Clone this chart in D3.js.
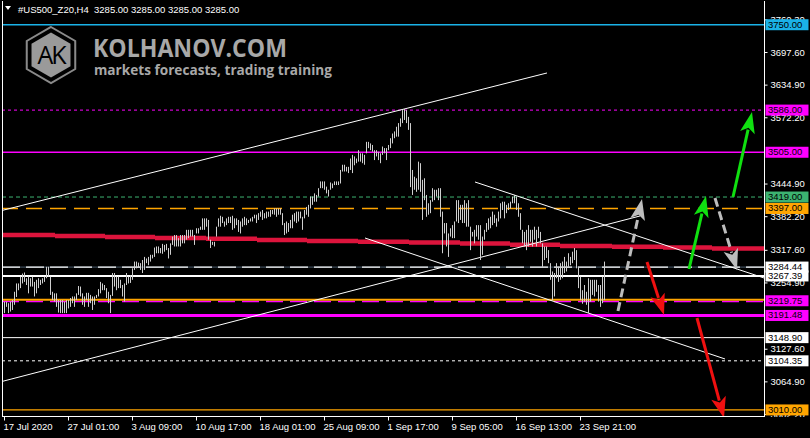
<!DOCTYPE html>
<html><head><meta charset="utf-8">
<script src="https://cdn.jsdelivr.net/npm/d3@7/dist/d3.min.js"></script>
<style>
html,body{margin:0;padding:0;background:#000;overflow:hidden;}
svg{display:block;}
</style></head><body>
<svg id="c" width="810" height="438"></svg>
<script>
// ---------- DATA ----------
const symbolTitle = "#US500_Z20,H4  3285.00 3285.00 3285.00 3285.00";
const highs = [
3218,3218,3215,3218,3221,3237,3253,3253,3266,3272,
3274,3263,3266,3263,3266,3256,3260,3263,3260,3263,
3266,3285,3285,3266,3237,3234,3234,3221,3221,3221,
3218,3221,3221,3225,3228,3228,3234,3248,3247,3234,
3228,3235,3235,3231,3228,3228,3231,3242,3256,3253,
3250,3244,3237,3231,3273,3273,3266,3266,3260,3250,
3253,3273,3266,3269,3282,3295,3295,3293,3292,3298,
3304,3301,3304,3308,3308,3322,3324,3324,3321,3329,
3327,3329,3321,3330,3343,3346,3346,3340,3346,3346,
3346,3356,3356,3356,3356,3346,3359,3359,3362,3378,
3378,3378,3375,3337,3333,3333,3362,3378,3383,3381,
3372,3378,3381,3381,3383,3378,3378,3375,3372,3378,
3381,3378,3375,3378,3381,3385,3385,3388,3391,3394,
3388,3391,3391,3394,3394,3397,3397,3397,3397,3388,
3369,3372,3369,3375,3385,3388,3391,3391,3391,3381,
3394,3400,3404,3420,3420,3426,3423,3436,3449,3449,
3449,3439,3433,3447,3445,3449,3449,3449,3471,3481,
3481,3477,3477,3493,3500,3497,3493,3509,3503,3503,
3500,3525,3525,3522,3519,3509,3509,3506,3503,3516,
3513,3513,3519,3532,3541,3545,3554,3561,3570,3586,
3588,3586,3573,3561,3471,3458,3455,3487,3484,3452,
3455,3423,3407,3413,3436,3433,3433,3436,3436,3391,
3369,3369,3349,3359,3365,3372,3413,3413,3404,3404,
3413,3407,3413,3362,3352,3356,3365,3365,3365,3343,
3356,3369,3378,3381,3391,3385,3378,3391,3407,3410,
3410,3404,3407,3410,3420,3423,3420,3407,3388,3356,
3352,3356,3365,3356,3356,3362,3356,3362,3352,3330,
3324,3324,3317,3292,3276,3273,3292,3285,3292,3295,
3304,3295,3311,3304,3314,3321,3317,3285,3266,3240,
3250,3237,3263,3260,3260,3260,3260,3250,3250,3266,
3295,3285];
const lows = [
3196,3208,3196,3199,3202,3212,3227,3240,3244,3253,
3256,3250,3234,3247,3247,3228,3234,3244,3250,3253,
3256,3263,3266,3231,3221,3218,3208,3197,3196,3196,
3196,3196,3205,3208,3215,3208,3221,3231,3228,3212,
3208,3221,3208,3215,3202,3212,3225,3228,3234,3240,
3240,3225,3215,3196,3229,3247,3240,3244,3244,3228,
3218,3250,3253,3254,3260,3279,3282,3284,3279,3273,
3279,3292,3288,3295,3301,3304,3311,3311,3311,3310,
3314,3317,3301,3308,3327,3324,3324,3324,3324,3330,
3330,3337,3340,3343,3343,3327,3349,3349,3356,3356,
3356,3362,3337,3321,3327,3324,3343,3362,3362,3369,
3362,3365,3369,3369,3356,3359,3365,3352,3349,3362,
3365,3365,3369,3372,3372,3378,3369,3375,3381,3375,
3378,3378,3381,3381,3386,3385,3381,3385,3385,3365,
3346,3349,3352,3359,3359,3372,3369,3372,3378,3356,
3378,3385,3381,3397,3404,3410,3410,3420,3436,3436,
3433,3426,3420,3433,3436,3442,3442,3442,3445,3468,
3468,3468,3465,3471,3465,3480,3484,3487,3487,3484,
3481,3503,3513,3509,3506,3490,3497,3490,3484,3500,
3503,3490,3509,3513,3522,3532,3535,3535,3554,3561,
3567,3561,3548,3438,3423,3433,3429,3433,3429,3375,
3413,3381,3385,3388,3410,3413,3420,3413,3381,3311,
3349,3324,3304,3343,3340,3340,3372,3369,3375,3369,
3369,3362,3362,3317,3343,3330,3343,3337,3298,3308,
3337,3352,3356,3359,3365,3369,3362,3372,3378,3394,
3378,3388,3394,3397,3407,3407,3394,3381,3356,3330,
3324,3317,3324,3333,3324,3337,3324,3340,3330,3285,
3298,3302,3292,3260,3221,3228,3263,3256,3260,3263,
3273,3276,3285,3288,3292,3298,3282,3244,3221,3214,
3218,3212,3196,3218,3231,3228,3237,3218,3208,3215,
3221,3285];

const xTickBars   = [0, 32, 64, 96, 128, 160, 192, 224, 256, 288];
const xTickLabels = ["17 Jul 2020","27 Jul 01:00","3 Aug 09:00","10 Aug 17:00","18 Aug 01:00",
                     "25 Aug 09:00","1 Sep 17:00","9 Sep 05:00","16 Sep 13:00","23 Sep 21:00"];
const yTickValues = [3760.30, 3697.60, 3634.90, 3572.20, 3444.90, 3382.20, 3317.60, 3254.90, 3127.60, 3064.90, 3002.20];

// horizontal levels
const levelPrices = [3750.00, 3586.00, 3505.00, 3419.00, 3397.00, 3284.44, 3267.39, 3221.50, 3219.75, 3191.48, 3148.90, 3104.35, 3010.00];
const levelLabels = ["3750.00","3586.00","3505.00","3419.00","3397.00","3284.44","3267.39","","3219.75","3191.48","3148.90","3104.35","3010.00"];

// weekly red step line
const stepBounds = [-2, 25.5, 50.5, 75.5, 101, 126.5, 151.5, 177, 202.5, 228, 253, 278, 304, 329.5, 354, 380];
const stepValues = [3346.1, 3344.1, 3342.2, 3340.3, 3338.8, 3336.5, 3334.5, 3333.0, 3331.7, 3329.8, 3327.3, 3325.0, 3323.4, 3322.1, 3320.2];

// trend lines: [startBar, startPrice, endBar, endPrice]
const trendStartBar   = [-2, -2, 180.5, 235.5];
const trendStartPrice = [3392.2, 3063.7, 3340.3, 3447.9];
const trendEndBar     = [271.5, 318, 360.5, 380];
const trendEndPrice   = [3657.3, 3382.6, 3107.9, 3263.5];

// forecast arrows
const arrowFromBar   = [307, 321.5, 342.5, 355.5, 364.5, 346.5];
const arrowFromPrice = [3200.1, 3294.2, 3280.7, 3417.1, 3419.1, 3186.6];
const arrowToBar     = [319, 330, 351, 366.5, 374, 360];
const arrowToPrice   = [3415.2, 3192.4, 3421.0, 3278.8, 3582.3, 2994.5];
const arrowKind      = ["gray","red","green","gray","green","red"];

// ---------- DRAW ----------
const svg = d3.select("#c");
const P = {left:2, right:764, top:1, bottom:416};
const x = d3.scaleLinear().domain([-2, 380]).range([0, 764]);
const y = d3.scaleLinear().domain([3002.2, 3697.6]).range([414, 52]);

svg.append("rect").attr("width",810).attr("height",438).attr("fill","#000");

const defs = svg.append("defs");
defs.append("clipPath").attr("id","plot").append("rect")
  .attr("x",P.left).attr("y",P.top).attr("width",P.right-P.left).attr("height",P.bottom-P.top);
defs.append("clipPath").attr("id","axisclip").append("rect")
  .attr("x",P.right).attr("y",0).attr("width",810-P.right).attr("height",P.bottom+1);

const plot = svg.append("g").attr("clip-path","url(#plot)");

// logo
const logo = svg.append("g");
const hex = (cx,cy,r)=>d3.range(6).map(k=>{const a=Math.PI/3*k - Math.PI/2; return [cx+r*Math.cos(a), cy+r*Math.sin(a)];});
logo.append("polygon").attr("points",hex(51,55,28).map(p=>p.join(",")).join(" "))
  .attr("fill","#000").attr("stroke","#8a8a8a").attr("stroke-width",2);
logo.append("polygon").attr("points",hex(51,55,22.5).map(p=>p.join(",")).join(" "))
  .attr("fill","#9a9a9a");
logo.append("text").attr("x",51).attr("y",64).attr("text-anchor","middle")
  .attr("font-family","Open Sans, sans-serif").attr("font-size",25).attr("fill","#000")
  .attr("letter-spacing",-2).text("AK");
logo.append("text").attr("x",93).attr("y",57).attr("font-family","Open Sans, sans-serif")
  .attr("font-weight","bold").attr("font-size",25).attr("fill","#a8a8a8")
  .attr("textLength",194).attr("lengthAdjust","spacingAndGlyphs").text("KOLHANOV.COM");
logo.append("text").attr("x",94).attr("y",75).attr("font-family","Open Sans, sans-serif")
  .attr("font-weight","bold").attr("font-size",14).attr("fill","#a8a8a8")
  .attr("textLength",238).attr("lengthAdjust","spacingAndGlyphs").text("markets forecasts, trading training");

// level lines
const levelStyle = [
  {c:"#1ab2e8", w:1.5, d:null, bg:"#1ab2e8"},
  {c:"#ff00ff", w:1, d:"3,3", bg:"#ff00ff"},
  {c:"#ff00ff", w:1.3, d:null, bg:"#ff00ff"},
  {c:"#3cb371", w:1, d:"4,3", bg:"#3cb371"},
  {c:"#ffa500", w:1.5, d:"16,8", bg:"#ffa500"},
  {c:"#ffffff", w:1.3, d:"18,6", bg:"#ffffff", under:"#3a4856"},
  {c:"#ffffff", w:2, d:null, bg:"#ffffff"},
  {c:"#ffa500", w:2, d:null, bg:null},
  {c:"#ff00ff", w:1.5, d:"17,7", bg:"#ff00ff"},
  {c:"#ff00ff", w:3, d:null, bg:"#ff00ff"},
  {c:"#ffffff", w:1, d:null, bg:"#ffffff"},
  {c:"#ffffff", w:1, d:"3,3", bg:"#ffffff"},
  {c:"#ffa500", w:1.2, d:null, bg:"#ffa500"}
];
const order = [0,1,2,3,4,5,6,8,7,9,10,11,12];
order.forEach(i=>{
  const s = levelStyle[i];
  let yy = y(levelPrices[i]);
  if (i===8) yy += 0.8;
  if (s.under) plot.append("line").attr("x1",P.left).attr("x2",P.right).attr("y1",yy).attr("y2",yy)
      .attr("stroke",s.under).attr("stroke-width",s.w);
  const ln = plot.append("line").attr("x1",P.left).attr("x2",P.right).attr("y1",yy).attr("y2",yy)
    .attr("stroke",s.c).attr("stroke-width",s.w);
  if (s.d) ln.attr("stroke-dasharray",s.d);
});

// red step line
plot.append("g").selectAll("line").data(stepValues).join("line")
  .attr("x1",(d,i)=>x(stepBounds[i])).attr("x2",(d,i)=>x(stepBounds[i+1]))
  .attr("y1",d=>y(d)).attr("y2",d=>y(d))
  .attr("stroke","#dc143c").attr("stroke-width",4.5);

// trend lines
plot.append("g").selectAll("line").data(trendStartBar).join("line")
  .attr("x1",(d,i)=>x(d)).attr("y1",(d,i)=>y(trendStartPrice[i]))
  .attr("x2",(d,i)=>x(trendEndBar[i])).attr("y2",(d,i)=>y(trendEndPrice[i]))
  .attr("stroke","#ffffff").attr("stroke-width",1);

// price bars
plot.append("g").selectAll("line").data(highs).join("line")
  .attr("x1",(d,i)=>Math.round(x(i))+0.5).attr("x2",(d,i)=>Math.round(x(i))+0.5)
  .attr("y1",d=>y(d)).attr("y2",(d,i)=>Math.max(y(lows[i]), y(d)+1))
  .attr("stroke","#cfcfcf").attr("stroke-width",1);

// arrows
const arrowColor = {gray:"#bdbdbd", red:"#f01010", green:"#10e010"};
arrowFromBar.forEach((b,i)=>{
  const x1=x(b), y1=y(arrowFromPrice[i]), x2=x(arrowToBar[i]), y2=y(arrowToPrice[i]);
  const dx=x2-x1, dy=y2-y1, L=Math.hypot(dx,dy), ux=dx/L, uy=dy/L;
  const hl=21, hw=7.5;
  const bx=x2-ux*hl, by=y2-uy*hl;
  const col = arrowColor[arrowKind[i]];
  const ln = plot.append("line").attr("x1",x1).attr("y1",y1).attr("x2",bx+ux*3).attr("y2",by+uy*3)
    .attr("stroke",col).attr("stroke-width",3);
  if (arrowKind[i]==="gray") ln.attr("stroke-dasharray","9,5");
  plot.append("path").attr("d",`M${x2},${y2}L${bx-uy*hw},${by+ux*hw}L${bx+ux*5},${by+uy*5}L${bx+uy*hw},${by-ux*hw}Z`)
    .attr("fill",col);
});

// frame
const fr = svg.append("g").attr("stroke","#fff").attr("stroke-width",1).attr("shape-rendering","crispEdges");
fr.append("line").attr("x1",2.5).attr("x2",2.5).attr("y1",P.top).attr("y2",P.bottom+0.5);
fr.append("line").attr("x1",2).attr("x2",P.right+1).attr("y1",P.bottom+0.5).attr("y2",P.bottom+0.5);
fr.append("line").attr("x1",P.right+0.5).attr("x2",P.right+0.5).attr("y1",P.top).attr("y2",P.bottom+0.5);

// title
svg.append("path").attr("d","M5,6L11,6L8,10Z").attr("fill","#fff");
svg.append("text").attr("x",18).attr("y",13).attr("font-family","Liberation Sans, Arial, sans-serif")
  .attr("font-size",9.5).attr("fill","#fff").style("white-space","pre").text(symbolTitle);

// right axis
const ra = svg.append("g").attr("clip-path","url(#axisclip)");
const yAxis = ra.append("g").attr("transform",`translate(${P.right+0.5},0)`)
  .call(d3.axisRight(y).tickValues(yTickValues).tickFormat(d3.format(".2f")).tickSize(3).tickPadding(3));
yAxis.select(".domain").remove();
yAxis.selectAll("line").attr("stroke","#fff");
yAxis.selectAll("text").attr("fill","#fff").attr("font-family","Liberation Sans, Arial, sans-serif").attr("font-size",9.5);

// level label boxes
const lbl = ra.append("g");
levelPrices.forEach((p,i)=>{
  if (!levelLabels[i]) return;
  const yy = y(p);
  lbl.append("rect").attr("x",P.right+1.5).attr("y",yy-5.5).attr("width",43).attr("height",11)
    .attr("fill",levelStyle[i].bg);
  lbl.append("text").attr("x",P.right+4).attr("y",yy+3).attr("font-family","Liberation Sans, Arial, sans-serif")
    .attr("font-size",9.5).attr("fill","#000").text(levelLabels[i]);
});

// bottom axis
const xAxis = svg.append("g").attr("transform",`translate(0,${P.bottom+0.5})`)
  .call(d3.axisBottom(x).tickValues(xTickBars).tickFormat((d,i)=>xTickLabels[i]).tickSize(4).tickPadding(3));
xAxis.select(".domain").remove();
xAxis.selectAll("line").attr("stroke","#fff");
xAxis.selectAll("text").attr("fill","#fff").attr("text-anchor","start").attr("dx",-1)
  .attr("font-family","Liberation Sans, Arial, sans-serif").attr("font-size",9.5);
</script>
</body></html>
